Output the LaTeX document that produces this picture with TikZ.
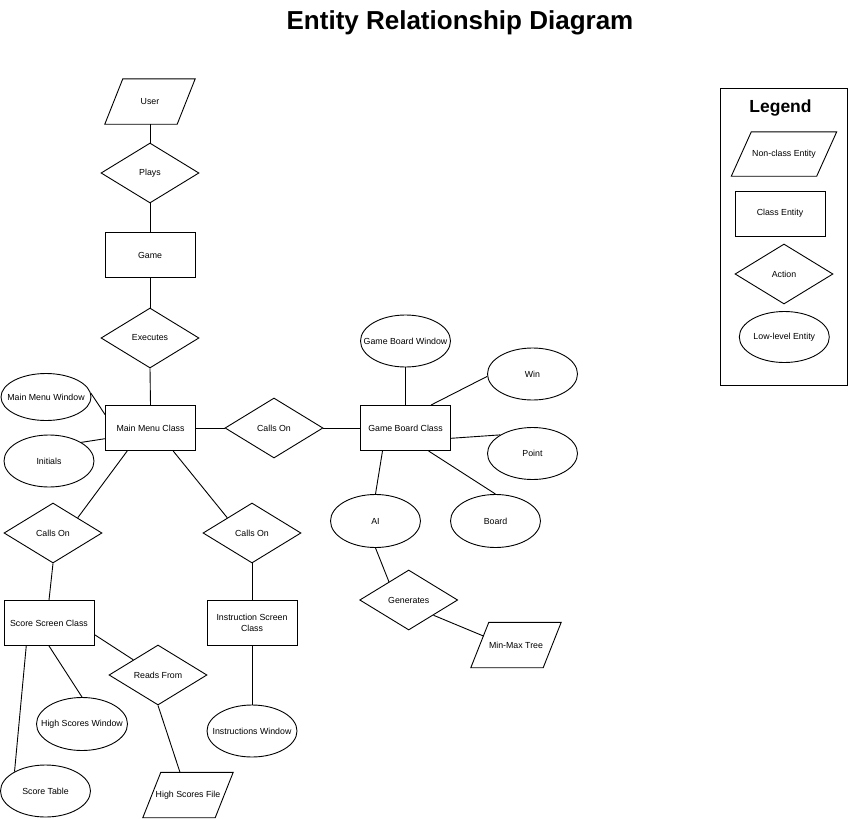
\documentclass[tikz,border=0pt]{standalone}
\usepackage{fontspec}
\setmainfont{Liberation Sans}
\usetikzlibrary{shapes.geometric,calc}
\newcommand\paraline[2]{\draw[ln] ($(#1.south west)+(-#2,0)$) -- ($(#1.south east)+(-#2,0)$) -- ($(#1.north east)+(#2,0)$) -- ($(#1.north west)+(#2,0)$) -- cycle;}
\begin{document}
\begin{tikzpicture}[x=1pt,y=-1pt,
  every node/.style={font=\fontsize{8.8}{10.5}\selectfont, inner sep=0pt, text=black},
  ln/.style={draw=black, line width=0.9pt},
  cls/.style={rectangle, draw=black, line width=0.9pt, minimum width=90pt, minimum height=45pt},
  act/.style={diamond, draw=black, line width=0.9pt, minimum width=98pt, minimum height=60pt},
  low/.style={ellipse, draw=black, line width=0.9pt, minimum width=90pt, minimum height=52pt},
  para/.style={rectangle, minimum width=72pt, minimum height=45pt},
]
\useasboundingbox (0,0) rectangle (849,819);
\node[font=\bfseries\fontsize{26}{30}\selectfont, anchor=base] (title) at (460,29) {Entity Relationship Diagram};

\node[para] (user) at (150,101.5) {User};
\paraline{user}{9}
\node[act] (plays) at (150,173) {Plays};
\node[cls] (game) at (150,255) {Game};
\node[act] (exec) at (150,338) {Executes};
\node[cls] (mm) at (150.5,428) {Main Menu Class};
\node[low, minimum height=47pt, label=center:Main Menu Window] (mmw) at (46,397) {};
\node[low, label=center:Initials] (ini) at (49,461) {};
\node[act] (callR) at (274,428) {Calls On};
\node[act] (callL) at (53,533) {Calls On};
\node[act] (callM) at (252,533) {Calls On};
\node[cls] (ss) at (49,623) {Score Screen Class};
\node[cls, align=center] (is) at (252,623) {Instruction Screen\\Class};
\node[act] (reads) at (158,675) {Reads From};
\node[para] (hsf) at (188,795) {High Scores File};
\paraline{hsf}{9}
\node[low, label=center:Score Table] (st) at (45.5,791) {};
\node[low, minimum width=91pt, minimum height=53pt, label=center:High Scores Window] (hsw) at (82,724) {};
\node[low, label=center:Instructions Window] (iw) at (252,731) {};
\node[low, label=center:Game Board Window] (gbw) at (405.5,341) {};
\node[cls] (gbc) at (405.5,428) {Game Board Class};
\node[low, label=center:Win] (win) at (532.5,374) {};
\node[low, label=center:Point] (point) at (532.5,453.5) {};
\node[low, minimum height=53pt, label=center:Board] (board) at (495.5,521) {};
\node[low, minimum height=53pt, label=center:AI] (ai) at (375.5,521) {};
\node[act] (gen) at (408.7,600) {Generates};
\node[para] (mmt) at (516,645) {Min-Max Tree};
\paraline{mmt}{9}

\draw[ln] (user.south) -- (plays.north);
\draw[ln] (plays.south) -- (game.north);
\draw[ln] (game.south) -- (exec.north);
\draw[ln] (exec.south) -- (mm.north);
\draw[ln] (mmw.5) -- ($(mm.north west)+(0,9.5)$);
\draw[ln] (ini.30) -- ($(mm.west)+(0,10.7)$);
\draw[ln] (mm.east) -- (callR.west);
\draw[ln] (callR.east) -- (gbc.west);
\draw[ln] ($(mm.south west)+(22.2,0)$) -- (callL.north east);
\draw[ln] ($(mm.south east)+(-22.8,0)$) -- (callM.north west);
\draw[ln] (callL.south) -- (ss.north);
\draw[ln] (callM.south) -- (is.north);
\draw[ln] ($(ss.east)+(0,11.6)$) -- (reads.north west);
\draw[ln] (reads.south) -- ($(hsf.north)+(-8,0)$);
\draw[ln] ($(ss.south west)+(22.7,0)$) -- (st.148);
\draw[ln] (ss.south) -- (hsw.north);
\draw[ln] (is.south) -- (iw.north);
\draw[ln] (gbw.south) -- (gbc.north);
\draw[ln] ($(gbc.north east)+(-20,0)$) -- (win.183);
\draw[ln] ($(gbc.east)+(0,10.3)$) -- (point.150);
\draw[ln] ($(gbc.south)+(23,0)$) -- (board.north);
\draw[ln] ($(gbc.south)+(-23,0)$) -- (ai.north);
\draw[ln] (ai.south) -- ($(gen.west)!0.6!(gen.north)$);
\draw[ln] (gen.south east) -- ($(mmt.west)+(3.6,-9)$);

% Legend
\node[draw=black, line width=0.9pt, minimum width=126.6pt, minimum height=297.4pt] (legbox) at (784,237) {};
\node[font=\bfseries\fontsize{17.5}{20}\selectfont, anchor=base] (legtitle) at (780.5,112.7) {Legend};
\node[para, minimum width=85pt, minimum height=44pt] (lnce) at (784,154) {Non-class Entity};
\paraline{lnce}{10}
\node[cls] (lce) at (780,213.5) {Class Entity};
\node[act] (lact) at (784,274) {Action};
\node[low, minimum height=51pt, label=center:Low-level Entity] (llle) at (784.3,337) {};
\end{tikzpicture}
\end{document}
